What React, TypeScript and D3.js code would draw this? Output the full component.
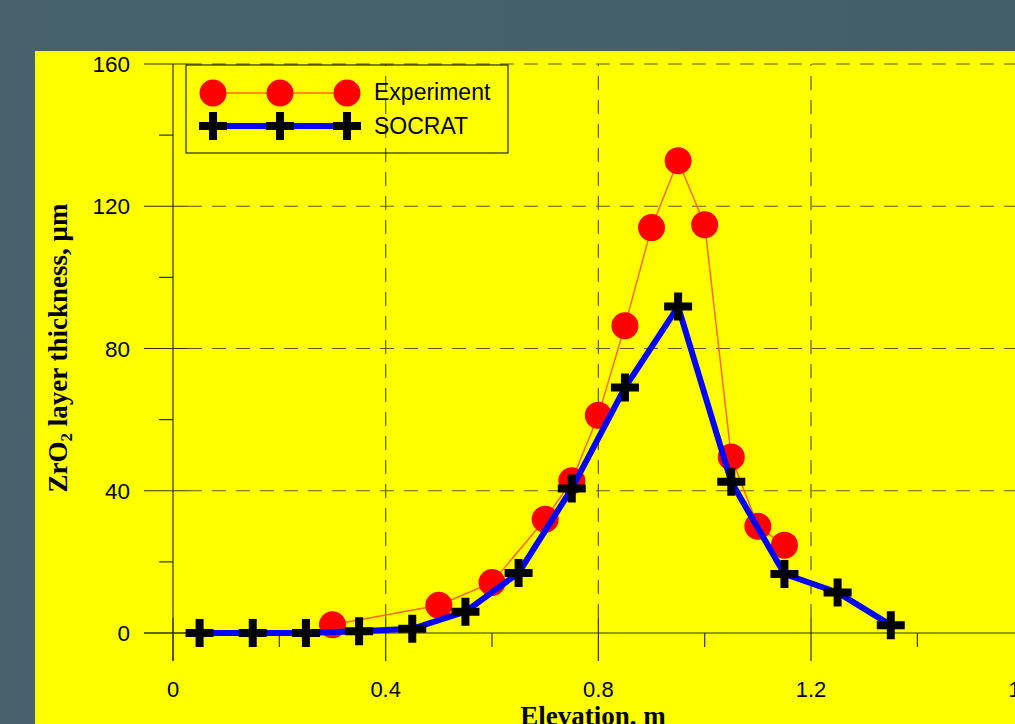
import React from "react";
import * as d3 from "d3";

const expX = [0.3, 0.5, 0.6, 0.7, 0.75, 0.8, 0.85, 0.9, 0.95, 1.0, 1.05, 1.1, 1.15];
const expY = [2.3, 7.8, 14.2, 32, 42.8, 61.2, 86.4, 114, 132.8, 114.8, 49.5, 30, 24.7];
const socX = [0.05, 0.15, 0.25, 0.35, 0.45, 0.55, 0.65, 0.75, 0.85, 0.95, 1.05, 1.15, 1.25, 1.35];
const socY = [0, 0, 0, 0.5, 1.2, 6, 16.9, 40.6, 69, 91.8, 42.5, 16.6, 11.4, 2.2];
const xMajor = [0, 0.4, 0.8, 1.2, 1.6];
const xMinor = [0.2, 0.6, 1.0, 1.4];
const yMajor = [0, 40, 80, 120, 160];
const yMinor = [20, 60, 100, 140];
const seriesNames = ["Experiment", "SOCRAT"];

const W = 1015, H = 724;
const x = d3.scaleLinear().domain([0, 1.6]).range([173, 1023.7]);
const y = d3.scaleLinear().domain([0, 160]).range([633, 64]);

const gridColor = "#5c5c00";
const axisColor = "#333300";
const tickFont = "'Liberation Sans', Arial, sans-serif";
const titleFont = "'Liberation Serif', 'Times New Roman', serif";

function Cross({ cx, cy }: { cx: number; cy: number }) {
  const s = 14, t = 4;
  return (
    <path
      d={`M${cx - s},${cy - t}H${cx - t}V${cy - s}H${cx + t}V${cy - t}H${cx + s}V${cy + t}H${cx + t}V${cy + s}H${cx - t}V${cy + t}H${cx - s}Z`}
      fill="#000"
    />
  );
}

export default function App() {
  const expPts = expX.map((v, i) => [v, expY[i]] as [number, number]);
  const socPts = socX.map((v, i) => [v, socY[i]] as [number, number]);
  const line = d3.line<[number, number]>().x((d) => x(d[0])).y((d) => y(d[1]));
  const y0 = y(0);
  const x0 = x(0);

  return (
    <svg width={W} height={H} style={{ position: "absolute", left: 0, top: 0 }}>
      <defs>
        <linearGradient id="bg" x1="0" y1="0" x2="1" y2="0">
          <stop offset="0" stopColor="#47626c" />
          <stop offset="1" stopColor="#435f6a" />
        </linearGradient>
      </defs>
      <rect x={0} y={0} width={W} height={H} fill="url(#bg)" />
      <rect x={35} y={51} width={W - 35} height={H - 51} fill="#ffff00" />

      {/* horizontal grid */}
      {yMajor.filter((v) => v > 0).map((v) => (
        <line key={"hg" + v} x1={x0 + 15} x2={W} y1={y(v)} y2={y(v)} stroke={gridColor} strokeWidth={1.2} strokeDasharray="14 10" />
      ))}
      {/* vertical grid */}
      {xMajor.filter((v) => v > 0).map((v) => (
        <line key={"vg" + v} x1={x(v)} x2={x(v)} y1={y0 - 15} y2={y(160)} stroke={gridColor} strokeWidth={1.2} strokeDasharray="14 10" />
      ))}

      {/* axes */}
      <line x1={x0 - 29} x2={W} y1={y0} y2={y0} stroke={axisColor} strokeWidth={1.2} />
      <line x1={x0} x2={x0} y1={y(160)} y2={y0 + 28} stroke={axisColor} strokeWidth={1.2} />

      {/* y ticks */}
      {yMajor.map((v) => (
        <g key={"yt" + v}>
          <line x1={x0 - 29} x2={x0 + 15} y1={y(v)} y2={y(v)} stroke={axisColor} strokeWidth={1.2} />
          <text x={130} y={y(v)} dy="0.36em" textAnchor="end" fontFamily={tickFont} fontSize={22.5} fill="#000">{v}</text>
        </g>
      ))}
      {yMinor.map((v) => (
        <line key={"ym" + v} x1={x0 - 14} x2={x0} y1={y(v)} y2={y(v)} stroke={axisColor} strokeWidth={1.2} />
      ))}

      {/* x ticks */}
      {xMajor.map((v) => (
        <g key={"xt" + v}>
          <line x1={x(v)} x2={x(v)} y1={y0 - 15} y2={y0 + 28} stroke={axisColor} strokeWidth={1.2} />
          <text x={x(v)} y={697} textAnchor="middle" fontFamily={tickFont} fontSize={22} fill="#000">{v}</text>
        </g>
      ))}
      {xMinor.map((v) => (
        <line key={"xm" + v} x1={x(v)} x2={x(v)} y1={y0} y2={y0 + 14} stroke={axisColor} strokeWidth={1.2} />
      ))}

      {/* axis titles */}
      <text x={593} y={725} textAnchor="middle" fontFamily={titleFont} fontWeight="bold" fontSize={27} fill="#000">Elevation, m</text>
      <text transform="translate(67,348) rotate(-90)" textAnchor="middle" fontFamily={titleFont} fontWeight="bold" fontSize={27} fill="#000">
        ZrO<tspan fontSize={17} dy={5}>2</tspan><tspan dy={-5}> layer thickness, μm</tspan>
      </text>

      {/* Experiment */}
      <path d={line(expPts) || ""} fill="none" stroke="#ff6a00" strokeWidth={1.5} />
      {expPts.map((p, i) => (
        <circle key={"e" + i} cx={x(p[0])} cy={y(p[1])} r={13.5} fill="#ff0000" />
      ))}

      {/* SOCRAT */}
      <path d={line(socPts) || ""} fill="none" stroke="#0000ff" strokeWidth={6} strokeLinejoin="round" />
      {socPts.map((p, i) => (
        <Cross key={"s" + i} cx={x(p[0])} cy={y(p[1])} />
      ))}

      {/* legend */}
      <rect x={186} y={65} width={322} height={88} fill="none" stroke="#000" strokeWidth={1} />
      <line x1={213} x2={347} y1={93} y2={93} stroke="#ff6a00" strokeWidth={1.5} />
      {[213, 280, 347].map((cx) => (
        <circle key={"lc" + cx} cx={cx} cy={93} r={13.5} fill="#ff0000" />
      ))}
      <text x={374} y={100} fontFamily={tickFont} fontSize={23} fill="#000">{seriesNames[0]}</text>
      <line x1={213} x2={347} y1={126} y2={126} stroke="#0000ff" strokeWidth={6} />
      {[213, 280, 347].map((cx) => (
        <Cross key={"lx" + cx} cx={cx} cy={126} />
      ))}
      <text x={374} y={134} fontFamily={tickFont} fontSize={23} fill="#000">{seriesNames[1]}</text>
    </svg>
  );
}
